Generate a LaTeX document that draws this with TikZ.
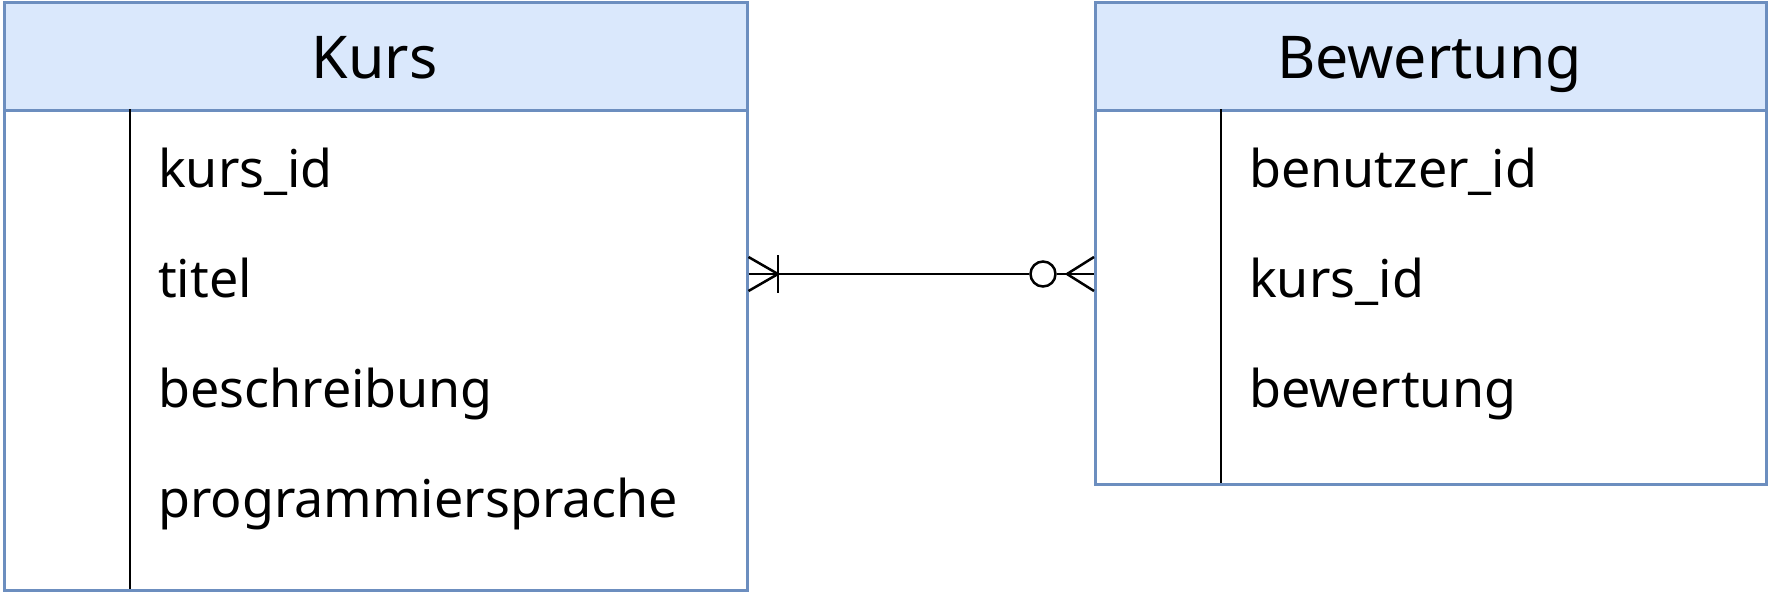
\documentclass[tikz,border=0pt]{standalone}
\usepackage{fontspec}
\setmainfont{Noto Sans}
\definecolor{hdrfill}{HTML}{DAE8FC}
\definecolor{hdrline}{HTML}{6C8EBF}
\begin{document}
\begin{tikzpicture}[x=1pt,y=-1pt,
  hdrbox/.style={draw=hdrline,fill=hdrfill,line width=2.5pt,inner sep=0pt,anchor=north west,rectangle},
  bodybox/.style={draw=hdrline,fill=white,line width=2.5pt,inner sep=0pt,anchor=north west,rectangle},
  ttl/.style={font=\fontsize{59}{66}\selectfont,anchor=base,inner sep=0pt},
  attr/.style={font=\fontsize{52}{60}\selectfont,anchor=base west,inner sep=0pt},
  divider/.style={line width=2.2pt,black},
  conn/.style={line width=2.5pt,black}]
\useasboundingbox (0,0) rectangle (1768,592);
\fill[white] (0,0) rectangle (1768,592);
% Kurs
\node[bodybox,minimum width=743pt,minimum height=480pt] (kbody) at (3,109) {};
\node[hdrbox,minimum width=743pt,minimum height=108pt] (khead) at (3,1) {};
\node[ttl] (ktitle) at (374.5,78) {Kurs};
\coordinate (kdt) at (130,109);
\coordinate (kdb) at (130,589);
\draw[divider] (kdt) -- (kdb);
\node[attr] (k1) at (158,187) {kurs\_id};
\node[attr] (k2) at (158,297) {titel};
\node[attr] (k3) at (158,407) {beschreibung};
\node[attr] (k4) at (158,517) {programmiersprache};
% Bewertung
\node[bodybox,minimum width=671pt,minimum height=374pt] (bbody) at (1094,109) {};
\node[hdrbox,minimum width=671pt,minimum height=108pt] (bhead) at (1094,1) {};
\node[ttl] (btitle) at (1429.5,78) {Bewertung};
\coordinate (bdt) at (1221,109);
\coordinate (bdb) at (1221,483);
\draw[divider] (bdt) -- (bdb);
\node[attr] (b1) at (1249,187) {benutzer\_id};
\node[attr] (b2) at (1249,297) {kurs\_id};
\node[attr] (b3) at (1249,407) {bewertung};
% connector
\coordinate (cl) at (kbody.east |- 0,274);
\coordinate (cr) at (bbody.west |- 0,274);
\coordinate (lfoot) at (778,274);
\coordinate (rfoot) at (1067,274);
\node[circle,draw,line width=2.5pt,fill=white,minimum size=25pt,inner sep=0pt] (oc) at (1043,274) {};
\draw[conn] (cl) -- (oc.west);
\draw[conn] (oc.east) -- (cr);
\draw[conn] (cl) ++(0,-17) -- (lfoot);
\draw[conn] (cl) ++(0,17) -- (lfoot);
\draw[conn] (lfoot) ++(0,-19) -- ++(0,38);
\draw[conn] (cr) ++(0,-17) -- (rfoot);
\draw[conn] (cr) ++(0,17) -- (rfoot);
\end{tikzpicture}
\end{document}
